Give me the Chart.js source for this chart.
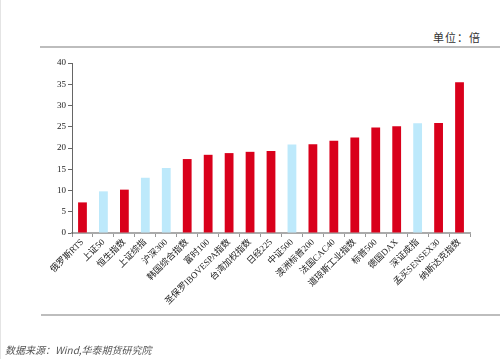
<!DOCTYPE html>
<html>
<head>
<meta charset="utf-8">
<script src="https://cdn.jsdelivr.net/npm/chart.js@4"></script>
<style>
  html, body { margin: 0; padding: 0; background: #fff; }
  #wrap { position: relative; width: 500px; height: 359px; overflow: hidden; }
  #chart { position: absolute; left: 0; top: 0; }
  .unit { position: absolute; right: 19px; top: 29px; font: 11px "Noto Sans CJK SC", serif; color: #333; letter-spacing: 1px; }
  .rule { position: absolute; left: 40px; right: 0; height: 2px; background: #bdbdbd; }
  .source { position: absolute; left: 5px; top: 342px; font: italic 10px "Noto Sans CJK SC", sans-serif; color: #555; }
  .edge { position: absolute; left: 0; top: 0; width: 1px; height: 359px; background: #e4e4e4; }
</style>
</head>
<body>
<div id="wrap">
  <div class="edge"></div>
  <div class="unit">单位：倍</div>
  <div class="rule" style="top:46px"></div>
  <canvas id="chart" width="500" height="359"></canvas>
  <div class="rule" style="top:314px; left:41px"></div>
  <div class="source">数据来源：Wind,华泰期货研究院</div>
</div>
<script>
const categories = [
  "俄罗斯RTS", "上证50", "恒生指数", "上证综指", "沪深300", "韩国综合指数",
  "富时100", "圣保罗IBOVESPA指数", "台湾加权指数", "日经225", "中证500",
  "澳洲标普200", "法国CAC40", "道琼斯工业指数", "标普500", "德国DAX",
  "深证成指", "孟买SENSEX30", "纳斯达克指数"
];
const values = [
  7.2, 9.8, 10.2, 13.0, 15.3, 17.4, 18.4, 18.8, 19.1, 19.3, 20.8,
  20.9, 21.7, 22.5, 24.8, 25.1, 25.8, 25.9, 35.5
];
// A股指数用浅蓝色
const domestic = ["上证50", "上证综指", "沪深300", "中证500", "深证成指"];
const yTicks = [0, 5, 10, 15, 20, 25, 30, 35, 40];

const RED = "#d9001b";
const BLUE = "#bde9fb";
const labelFont = { family: "'Liberation Serif', 'Noto Sans CJK SC', serif", size: 9 };

new Chart(document.getElementById("chart"), {
  type: "bar",
  data: {
    labels: categories,
    datasets: [{
      data: values,
      backgroundColor: categories.map(c => domestic.includes(c) ? BLUE : RED),
      barPercentage: 0.42,
      categoryPercentage: 1
    }]
  },
  options: {
    responsive: false,
    animation: false,
    layout: { padding: { left: 0, top: 63, right: 30, bottom: 0 } },
    plugins: { legend: { display: false }, tooltip: { enabled: false } },
    scales: {
      x: {
        offset: true,
        grid: { display: true, offset: true, drawOnChartArea: false, tickLength: 4, color: "#999" },
        border: { color: "#aaa", width: 2 },
        ticks: { minRotation: 45, maxRotation: 45, autoSkip: false, color: "#222", font: labelFont, padding: 0 },
        afterFit: s => { s.height = 126; }
      },
      y: {
        min: 0,
        max: 40,
        afterBuildTicks: s => { s.ticks = yTicks.map(v => ({ value: v })); },
        grid: { display: true, drawOnChartArea: false, tickLength: 4, color: "#666" },
        border: { color: "#666", width: 1 },
        ticks: { color: "#222", font: labelFont, padding: 2 },
        afterFit: s => { s.width = 72; }
      }
    }
  }
});
</script>
</body>
</html>
